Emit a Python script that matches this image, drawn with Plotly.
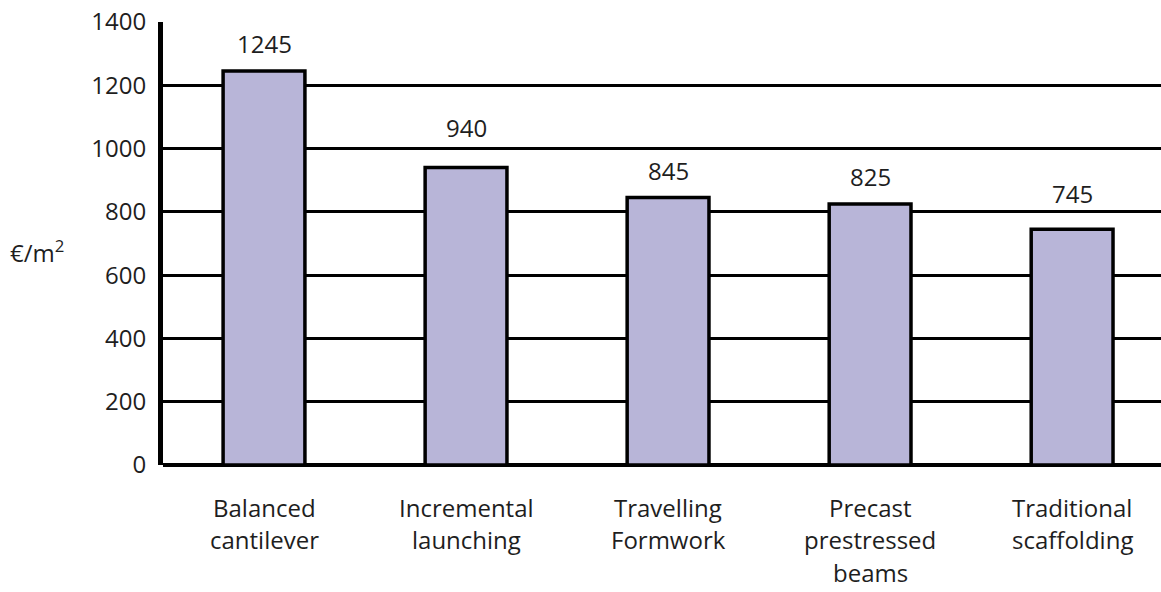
import plotly.graph_objects as go

categories = ["Balanced<br>cantilever", "Incremental<br>launching", "Travelling<br>Formwork",
              "Precast<br>prestressed<br>beams", "Traditional<br>scaffolding"]
values = [1245, 940, 845, 825, 745]
value_labels = ["1245", "940", "845", "825", "745"]
label_shift = [28, 40, 27, 27, 36]
y_ticks = [0, 200, 400, 600, 800, 1000, 1200, 1400]

FONT = "Open Sans"
TXT = "#1e1e1e"

fig = go.Figure()
fig.add_trace(go.Bar(
    x=list(range(len(categories))), y=values,
    marker=dict(color="#b8b5d8", line=dict(color="black", width=3.5)),
    width=0.405, hoverinfo="skip",
))

for i, (v, t, s) in enumerate(zip(values, value_labels, label_shift)):
    fig.add_annotation(x=i, y=v, text=t, showarrow=False, yshift=s,
                       yanchor="middle", font=dict(family=FONT, size=24, color=TXT))

# category labels, one line per annotation for wider line spacing
for i, cat in enumerate(categories):
    for k, line in enumerate(cat.split("<br>")):
        fig.add_annotation(x=i, xref="x", yref="paper", y=0, text=line,
                           showarrow=False, yanchor="middle", yshift=-42 - 32.5 * k,
                           borderpad=0,
                           font=dict(family=FONT, size=24, color=TXT))

fig.add_annotation(xref="paper", yref="y", x=-0.155, y=675, text="€/m<sup>2</sup>",
                   showarrow=False, xanchor="left", yanchor="middle",
                   font=dict(family=FONT, size=24, color=TXT))

fig.update_layout(
    width=1161, height=592,
    margin=dict(l=163, r=0, t=22, b=127),
    paper_bgcolor="white", plot_bgcolor="white",
    showlegend=False,
    font=dict(family=FONT, size=24, color=TXT),
    xaxis=dict(range=[-0.5, 4.44], tickmode="array",
               tickvals=list(range(len(categories))),
               showticklabels=False,
               showgrid=False, zeroline=False, showline=False, ticks=""),
    yaxis=dict(range=[0, 1400], tickvals=y_ticks,
               showgrid=True, gridcolor="black", gridwidth=3,
               zeroline=True, zerolinecolor="black", zerolinewidth=4,
               showline=True, linecolor="black", linewidth=5,
               ticks="outside", ticklen=7, tickcolor="rgba(0,0,0,0)",
               tickfont=dict(family=FONT, size=24, color=TXT)),
)

fig.write_html("out.html")
